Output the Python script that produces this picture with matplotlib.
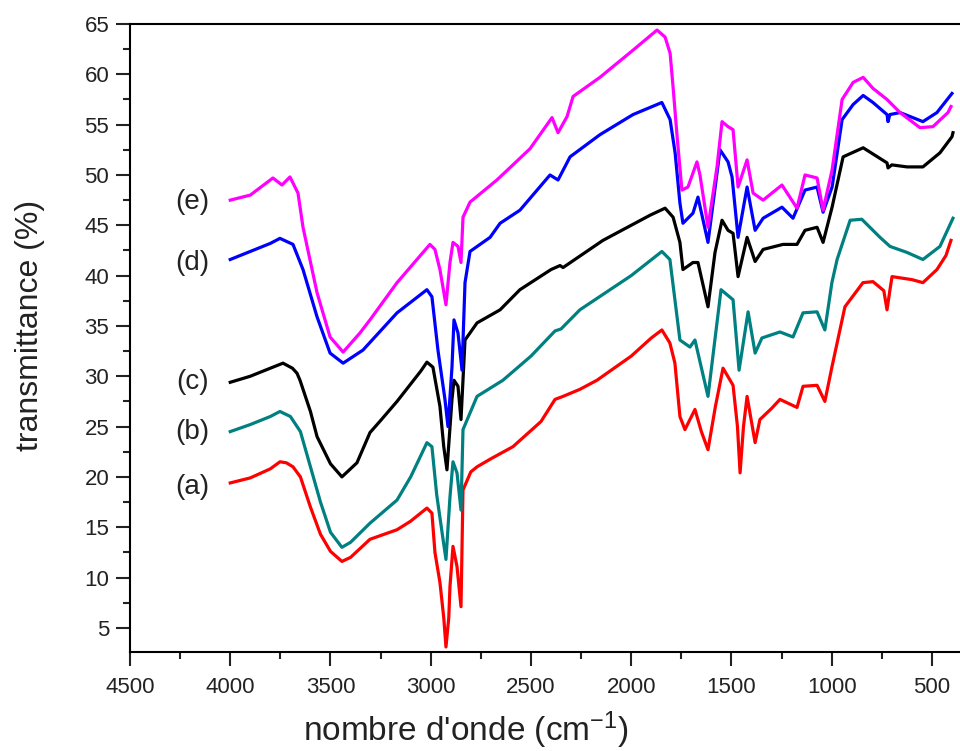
import numpy as np
import matplotlib
matplotlib.use("Agg")
import matplotlib.pyplot as plt
from matplotlib.ticker import MultipleLocator

plt.rcParams['font.family'] = ['Liberation Sans', 'DejaVu Sans']
plt.rcParams['mathtext.default'] = 'regular'

# %% spectra (wavenumber cm-1, transmittance %)
wn_a = [4000, 3900, 3800, 3752, 3720, 3687, 3650, 3600, 3550, 3500, 3443, 3400, 3303, 3168, 3100,
        3019, 2994, 2979, 2954, 2935, 2924, 2910, 2904, 2889, 2869, 2849, 2839, 2800, 2769, 2700,
        2590, 2450, 2380, 2340, 2256, 2171, 2000, 1900, 1847, 1807, 1782, 1757, 1732, 1682, 1650,
        1617, 1580, 1542, 1492, 1470, 1457, 1440, 1422, 1382, 1358, 1300, 1258, 1173, 1143, 1073,
        1034, 999, 934, 844, 794, 740, 724, 710, 699, 600, 545, 475, 430, 405]
t_a = [19.4, 19.9, 20.8, 21.5, 21.4, 21.0, 20.0, 17.0, 14.3, 12.6, 11.6, 12.0, 13.8, 14.75, 15.6,
       16.9, 16.4, 12.5, 9.5, 6.0, 3.1, 6.0, 9.1, 13.1, 11.1, 7.1, 18.7, 20.5, 21.0, 21.8,
       23.0, 25.5, 27.7, 28.0, 28.7, 29.6, 32.0, 33.8, 34.6, 33.3, 31.3, 26.0, 24.7, 26.7, 24.5,
       22.7, 27.0, 30.8, 29.1, 25.0, 20.4, 25.0, 28.0, 23.4, 25.7, 26.8, 27.7, 26.9, 29.0, 29.1,
       27.5, 30.9, 36.9, 39.3, 39.4, 38.5, 36.6, 38.5, 39.9, 39.6, 39.3, 40.6, 42.0, 43.5]

wn_b = [4000, 3900, 3800, 3752, 3700, 3650, 3600, 3550, 3500, 3443, 3400, 3303, 3168, 3100, 3019,
        2994, 2970, 2940, 2924, 2904, 2889, 2869, 2849, 2839, 2769, 2640, 2500, 2380, 2350, 2256,
        2000, 1847, 1807, 1757, 1707, 1682, 1617, 1552, 1492, 1462, 1417, 1382, 1348, 1258, 1193,
        1143, 1073, 1034, 999, 973, 908, 850, 759, 709, 624, 545, 460, 395]
t_b = [24.5, 25.2, 26.0, 26.5, 26.0, 24.5, 21.0, 17.5, 14.5, 13.0, 13.5, 15.4, 17.7, 20.0, 23.4,
       23.0, 18.2, 14.0, 11.8, 18.0, 21.5, 20.4, 16.7, 24.7, 28.0, 29.6, 32.0, 34.5, 34.7, 36.6,
       40.0, 42.4, 41.6, 33.6, 32.9, 33.6, 28.0, 38.6, 37.6, 30.6, 36.4, 32.3, 33.8, 34.4, 33.9,
       36.3, 36.4, 34.6, 39.3, 41.6, 45.5, 45.6, 43.8, 42.9, 42.3, 41.6, 42.9, 45.7]

wn_c = [4000, 3900, 3800, 3737, 3690, 3667, 3652, 3600, 3567, 3500, 3443, 3368, 3303, 3250, 3168,
        3050, 3019, 2989, 2954, 2935, 2919, 2894, 2884, 2864, 2849, 2829, 2769, 2654, 2555, 2400,
        2355, 2340, 2141, 1906, 1831, 1791, 1757, 1742, 1692, 1667, 1617, 1582, 1547, 1517, 1492,
        1467, 1422, 1382, 1342, 1243, 1173, 1133, 1073, 1043, 998, 943, 843, 724, 719, 700,
        624, 545, 460, 400, 395]
t_c = [29.4, 30.0, 30.8, 31.3, 30.8, 30.3, 29.6, 26.5, 24.0, 21.3, 20.0, 21.4, 24.4, 25.6, 27.5,
       30.5, 31.4, 30.9, 27.0, 23.0, 20.7, 27.7, 29.6, 29.0, 25.7, 33.6, 35.3, 36.6, 38.6, 40.6,
       41.0, 40.8, 43.5, 46.0, 46.7, 45.8, 43.3, 40.6, 41.3, 41.3, 36.9, 42.3, 45.5, 44.5, 44.2,
       39.9, 43.8, 41.4, 42.6, 43.1, 43.1, 44.5, 44.8, 43.3, 46.8, 51.8, 52.7, 51.2, 50.7, 51.0,
       50.8, 50.8, 52.2, 53.8, 54.2]

wn_d = [4000, 3900, 3800, 3752, 3687, 3637, 3567, 3502, 3437, 3338, 3168, 3019, 2994, 2964, 2929,
        2914, 2894, 2884, 2864, 2844, 2829, 2804, 2704, 2654, 2555, 2405, 2365, 2305, 2156, 1991,
        1847, 1806, 1781, 1757, 1742, 1692, 1667, 1617, 1557, 1517, 1497, 1467, 1422, 1382, 1342,
        1248, 1193, 1133, 1073, 1043, 998, 948, 893, 843, 794, 724, 719, 710, 659, 545,
        475, 400]
t_d = [41.6, 42.4, 43.2, 43.7, 43.1, 40.6, 35.9, 32.3, 31.3, 32.6, 36.3, 38.6, 37.9, 32.6, 27.7,
       25.0, 30.9, 35.6, 34.3, 30.6, 39.3, 42.4, 43.8, 45.2, 46.5, 50.0, 49.5, 51.8, 54.0, 56.0,
       57.2, 55.5, 52.2, 47.2, 45.2, 46.2, 47.8, 43.3, 52.5, 51.3, 49.8, 43.8, 48.8, 44.5, 45.7,
       46.8, 45.7, 48.5, 48.8, 46.3, 48.8, 55.5, 57.0, 57.9, 57.2, 56.0, 55.3, 56.0, 56.2, 55.3,
       56.2, 58.1]

wn_e = [4000, 3900, 3787, 3742, 3702, 3662, 3637, 3567, 3502, 3437, 3353, 3303, 3168, 3004, 2979,
        2954, 2924, 2904, 2889, 2864, 2849, 2839, 2804, 2670, 2505, 2395, 2365, 2320, 2290, 2156,
        1991, 1871, 1831, 1806, 1791, 1771, 1747, 1717, 1672, 1657, 1617, 1572, 1547, 1517, 1492,
        1467, 1422, 1392, 1342, 1248, 1173, 1133, 1073, 1043, 998, 948, 893, 843, 794, 724,
        659, 560, 495, 420, 405]
t_e = [47.5, 48.0, 49.7, 49.0, 49.8, 48.2, 44.8, 38.3, 33.9, 32.4, 34.3, 35.6, 39.3, 43.1, 42.6,
       40.6, 37.1, 41.3, 43.3, 42.9, 41.3, 45.8, 47.3, 49.5, 52.6, 55.7, 54.2, 55.8, 57.8, 59.7,
       62.4, 64.4, 63.7, 62.1, 58.7, 53.8, 48.5, 48.8, 51.3, 50.0, 44.8, 50.8, 55.3, 54.8, 54.5,
       48.8, 51.5, 48.2, 47.5, 49.0, 46.7, 50.0, 49.7, 46.5, 50.5, 57.5, 59.2, 59.7, 58.6, 57.5,
       56.2, 54.7, 54.8, 56.2, 56.8]

labels = ['(a)', '(b)', '(c)', '(d)', '(e)']
label_y = [19.0, 24.5, 29.4, 41.3, 47.3]
colors = ['#ff0000', '#008080', '#000000', '#0000ff', '#ff00ff']

# %%
fig = plt.figure(figsize=(9.6, 7.51), dpi=100)
ax = fig.add_axes([130 / 960, 1 - 652 / 751, 1 - 130 / 960, (652 - 24) / 751])

series = [(wn_a, t_a), (wn_b, t_b), (wn_c, t_c), (wn_d, t_d), (wn_e, t_e)]
for (wn, t), c in zip(series, colors):
    ax.plot(wn, t, color=c, lw=2.3)

for lab, y in zip(labels, label_y):
    ax.text(4190, y, lab, fontsize=20, ha='center', va='center', color='#222222')

ax.set_xlim(4500, 360)
ax.set_ylim(2.6, 65)
ax.xaxis.set_major_locator(MultipleLocator(500))
ax.xaxis.set_minor_locator(MultipleLocator(250))
ax.yaxis.set_minor_locator(MultipleLocator(2.5))
ax.set_yticks(np.arange(5, 66, 5))
ax.spines['right'].set_visible(False)
for s in ['left', 'bottom', 'top']:
    ax.spines[s].set_linewidth(1.5)
ax.tick_params(which='major', direction='out', length=10, width=1.5, labelsize=16,
               colors='#222222', pad=5)
ax.tick_params(which='minor', direction='out', length=5, width=1.5, colors='#222222')
ax.tick_params(axis='x', which='major', pad=8)

fig.text(30 / 960, 1 - 325 / 751, 'transmittance (%)', rotation=90, fontsize=23,
         ha='center', va='center', color='#222222')
fig.text(466 / 960, 1 - 730 / 751, "nombre d'onde (cm$^{-1}$)", fontsize=24,
         ha='center', va='center', color='#222222')

fig.savefig('out.png', dpi=100)
